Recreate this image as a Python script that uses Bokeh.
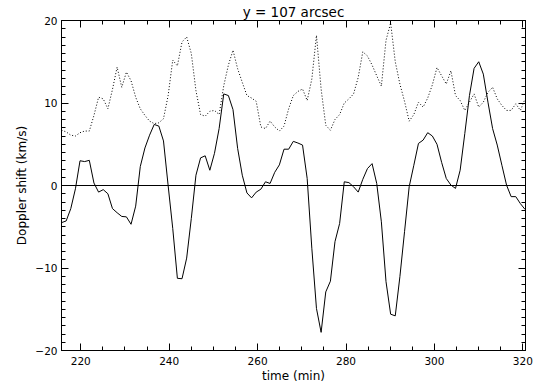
from bokeh.plotting import figure
from bokeh.models import Range1d, FixedTicker, LinearAxis, Span
from bokeh.embed import file_html
from bokeh.resources import INLINE

# sample times (min)
time_min = [215.65, 216.70, 217.75, 218.80, 219.84, 220.89, 221.94, 222.99, 224.04, 225.09,
            226.14, 227.18, 228.23, 229.28, 230.33, 231.38, 232.43, 233.47, 234.52, 235.57,
            236.62, 237.67, 238.72, 239.77, 240.81, 241.86, 242.91, 243.96, 245.01, 246.06,
            247.11, 248.15, 249.20, 250.25, 251.30, 252.35, 253.40, 254.44, 255.49, 256.54,
            257.59, 258.64, 259.69, 260.74, 261.79, 262.83, 263.88, 264.93, 265.98, 267.03,
            268.08, 269.12, 270.17, 271.22, 272.27, 273.32, 274.37, 275.42, 276.47, 277.51,
            278.56, 279.61, 280.66, 281.71, 282.76, 283.80, 284.85, 285.90, 286.95, 288.00,
            289.05, 290.10, 291.14, 292.19, 293.24, 294.29, 295.34, 296.39, 297.44, 298.48,
            299.53, 300.58, 301.63, 302.68, 303.73, 304.77, 305.82, 306.87, 307.92, 308.97,
            310.02, 311.06, 312.11, 313.16, 314.21, 315.26, 316.31, 317.35, 318.40, 319.45,
            320.50]

# Doppler shift, solid curve (km/s)
shift_solid = [-4.5, -4.3, -2.8, -0.4, 3.0, 2.9, 3.05, 0.3, -0.8, -0.5,
               -1.0, -2.8, -3.3, -3.75, -3.8, -4.7, -2.5, 2.3, 4.55, 6.1,
               7.4, 7.2, 5.4, 0.0, -5.2, -11.25, -11.3, -8.8, -4.0, 1.25,
               3.35, 3.6, 1.85, 3.9, 6.9, 11.1, 10.9, 9.2, 4.5, 1.25,
               -0.9, -1.5, -0.8, -0.45, 0.45, 0.25, 1.6, 2.5, 4.4, 4.4,
               5.35, 5.15, 4.9, 0.85, -7.6, -14.9, -17.8, -12.9, -11.6, -6.8,
               -4.6, 0.45, 0.35, -0.15, -0.8, 0.75, 2.05, 2.65, 0.25, -4.4,
               -11.65, -15.6, -15.8, -11.05, -5.6, -0.15, 2.45, 5.1, 5.5, 6.4,
               6.0, 5.0, 2.8, 0.85, 0.05, -0.35, 1.85, 6.3, 10.9, 14.2,
               15.0, 13.5, 10.1, 6.9, 4.9, 2.45, 0.05, -1.35, -1.35, -2.2,
               -2.9]

# Doppler shift, dotted curve (km/s)
shift_dotted = [6.7, 6.5, 6.1, 6.0, 6.4, 6.6, 6.6, 8.5, 10.7, 10.5,
                9.3, 11.65, 14.35, 11.9, 13.75, 12.7, 10.7, 9.3, 8.5, 7.8,
                7.5, 7.6, 8.1, 10.9, 15.2, 14.5, 17.4, 18.0, 16.0, 11.5,
                8.6, 8.4, 9.0, 9.1, 8.6, 12.1, 14.6, 16.4, 14.15, 12.5,
                10.9, 10.6, 10.2, 7.1, 6.9, 7.8, 7.1, 6.6, 7.2, 9.3,
                10.9, 11.4, 11.7, 10.3, 12.9, 18.2, 11.7, 7.3, 6.7, 8.0,
                8.6, 10.0, 10.5, 11.1, 13.1, 16.2, 15.7, 14.6, 13.3, 12.05,
                17.6, 19.7, 15.0, 12.3, 10.2, 7.8, 8.6, 10.1, 9.5, 10.6,
                12.2, 14.3, 13.3, 12.3, 13.9, 10.9, 10.3, 9.1, 10.1, 11.1,
                9.5, 10.1, 11.3, 11.9, 10.5, 9.7, 9.1, 9.1, 9.9, 9.1,
                10.5]

x_major = [220, 240, 260, 280, 300, 320]
x_minor = list(range(215, 325, 5))
y_major = [-20, -10, 0, 10, 20]
y_minor = list(range(-20, 21))
y_overrides = {-20: "\u221220", -10: "\u221210"}

FONT = "DejaVu Sans"
X0, X1 = 215.65, 320.6

p = figure(width=534, height=385, output_backend="svg", toolbar_location=None,
           x_range=Range1d(X0, X1), y_range=Range1d(-20, 20),
           min_border_left=61, min_border_right=9, min_border_top=20, min_border_bottom=35,
           background_fill_color="white", border_fill_color="white")
p.grid.visible = False
p.outline_line_color = "black"
p.outline_line_width = 1

p.title.text = "y = 107 arcsec"
p.title.align = "center"
p.title.text_font = FONT
p.title.text_font_size = "13.5px"
p.title.text_font_style = "normal"
p.title.text_color = "black"
p.title.standoff = 2

def style_axis(ax, ticks, minor, show_labels):
    ax.ticker = FixedTicker(ticks=ticks, minor_ticks=minor)
    ax.major_tick_in = 7
    ax.major_tick_out = 0
    ax.minor_tick_in = 4
    ax.minor_tick_out = 0
    ax.axis_line_color = "black"
    ax.major_tick_line_color = "black"
    ax.minor_tick_line_color = "black"
    ax.major_label_text_font = FONT
    ax.major_label_text_font_size = "10.5px" if show_labels else "0px"
    ax.major_label_text_color = "black"
    ax.axis_label_text_font = FONT
    ax.axis_label_text_font_size = "12px"
    ax.axis_label_text_font_style = "normal"
    ax.axis_label_text_color = "black"
    if not show_labels:
        ax.major_label_text_color = None
        ax.major_label_standoff = 0

style_axis(p.xaxis[0], x_major, x_minor, True)
style_axis(p.yaxis[0], y_major, y_minor, True)
p.xaxis[0].axis_label = "time (min)"
p.xaxis[0].major_label_standoff = 6
p.xaxis[0].axis_label_standoff = 1
p.yaxis[0].axis_label = "Doppler shift (km/s)"
p.yaxis[0].major_label_standoff = 4
p.yaxis[0].axis_label_standoff = 3
p.yaxis[0].major_label_overrides = y_overrides

top_ax = LinearAxis()
style_axis(top_ax, x_major, x_minor, False)
p.add_layout(top_ax, "above")
right_ax = LinearAxis()
style_axis(right_ax, y_major, y_minor, False)
p.add_layout(right_ax, "right")

p.add_layout(Span(location=0, dimension="width", line_color="black", line_width=1))

p.line(time_min, shift_dotted, line_color="black", line_width=1, line_dash="1 2")
p.line(time_min, shift_solid, line_color="black", line_width=1)

open("out.html", "w").write(file_html(p, INLINE))
